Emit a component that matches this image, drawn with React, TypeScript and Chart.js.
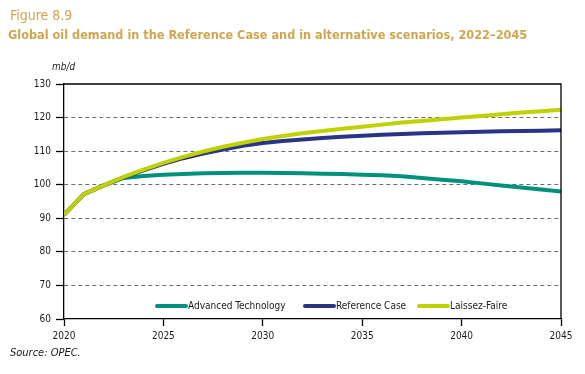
import React, { useEffect, useRef } from "react";
import { Chart, registerables } from "chart.js";

Chart.register(...registerables);

const years = [2020, 2021, 2022, 2023, 2024, 2025, 2026, 2027, 2028, 2029, 2030, 2031, 2032, 2033, 2034, 2035, 2036, 2037, 2038, 2039, 2040, 2041, 2042, 2043, 2044, 2045];
const advancedTechnology = [91.0, 97.2, 99.8, 102.0, 102.6, 103.0, 103.2, 103.4, 103.5, 103.6, 103.6, 103.5, 103.4, 103.3, 103.2, 103.0, 102.8, 102.5, 102.0, 101.5, 101.0, 100.4, 99.8, 99.2, 98.6, 98.0];
const referenceCase = [91.0, 97.2, 99.8, 102.2, 104.3, 106.2, 107.9, 109.3, 110.5, 111.6, 112.4, 113.0, 113.5, 113.9, 114.3, 114.6, 114.9, 115.1, 115.3, 115.5, 115.6, 115.8, 115.9, 116.0, 116.1, 116.2];
const laissezFaire = [91.0, 97.2, 99.8, 102.3, 104.5, 106.5, 108.3, 109.9, 111.3, 112.5, 113.6, 114.5, 115.3, 116.0, 116.7, 117.3, 117.9, 118.5, 119.0, 119.5, 120.0, 120.5, 121.0, 121.5, 121.9, 122.3];
const seriesLabels = ["Advanced Technology", "Reference Case", "Laissez-Faire"];
const seriesColors = ["#00917e", "#2a3486", "#bfd100"];

const CHART_FONT = '"DejaVu Sans Condensed", "Liberation Sans Narrow", sans-serif';

const framePlugin = {
  id: "frame",
  afterDatasetsDraw(chart: any) {
    const { ctx, chartArea } = chart;
    ctx.save();
    ctx.strokeStyle = "#000";
    ctx.lineWidth = 1.3;
    ctx.beginPath();
    ctx.moveTo(chartArea.left, chartArea.top);
    ctx.lineTo(chartArea.right, chartArea.top);
    ctx.lineTo(chartArea.right, chartArea.bottom);
    ctx.stroke();
    ctx.restore();
  },
};

const legendStarts = [157, 305, 419];

const legendPlugin = {
  id: "innerLegend",
  afterDatasetsDraw(chart: any) {
    const { ctx, chartArea } = chart;
    const y = chartArea.bottom - 13;
    const lineLen = 29;
    ctx.save();
    ctx.font = `10px ${CHART_FONT}`;
    ctx.textBaseline = "middle";
    chart.data.datasets.forEach((ds: any, i: number) => {
      const x = legendStarts[i];
      ctx.strokeStyle = ds.borderColor;
      ctx.lineWidth = 4;
      ctx.lineCap = "round";
      ctx.beginPath();
      ctx.moveTo(x, y);
      ctx.lineTo(x + lineLen, y);
      ctx.stroke();
      ctx.fillStyle = "#1a1a1a";
      ctx.fillText(ds.label, x + lineLen + 2, y + 0.5);
    });
    ctx.restore();
  },
};

export default function App() {
  const canvasRef = useRef<HTMLCanvasElement | null>(null);

  useEffect(() => {
    document.body.style.margin = "0";
    const canvas = canvasRef.current;
    if (!canvas) return;
    const series = [advancedTechnology, referenceCase, laissezFaire];
    const chart = new Chart(canvas, {
      type: "line",
      data: {
        datasets: series.map((vals, i) => ({
          label: seriesLabels[i],
          data: years.map((yr, j) => ({ x: yr, y: vals[j] })),
          borderColor: seriesColors[i],
          backgroundColor: seriesColors[i],
          borderWidth: 4,
          pointRadius: 0,
          tension: 0,
          borderJoinStyle: "round" as const,
          order: 2 - i,
        })),
      },
      options: {
        animation: false,
        responsive: false,
        maintainAspectRatio: false,
        layout: { padding: { left: 0, right: 24, top: 84, bottom: 0 } },
        plugins: { legend: { display: false }, tooltip: { enabled: false } },
        scales: {
          x: {
            type: "linear",
            min: 2020,
            max: 2045,
            afterFit: (s: any) => { s.height = 374 - 319; },
            ticks: {
              stepSize: 5,
              color: "#1a1a1a",
              font: { family: CHART_FONT, size: 10 },
              padding: 4,
              maxRotation: 0,
              callback: (v: any) => String(v),
            },
            grid: { drawOnChartArea: false, drawTicks: true, tickLength: 7, tickColor: "#000", tickWidth: 1.3 },
            border: { display: true, color: "#000", width: 1.3 },
          },
          y: {
            min: 60,
            max: 130,
            afterFit: (s: any) => { s.width = 64; },
            ticks: {
              stepSize: 10,
              color: "#1a1a1a",
              font: { family: CHART_FONT, size: 10 },
              padding: 5,
            },
            grid: {
              color: (c: any) => (c.tick && (c.tick.value === 60 || c.tick.value === 130) ? "rgba(0,0,0,0)" : "#6e6e6e"),
              lineWidth: 1,
              tickColor: "#000",
              tickLength: 8,
              tickWidth: 1.3,
              tickBorderDash: [],
            },
            border: { display: true, color: "#000", width: 1.3, dash: [4, 3] },
          },
        },
      },
      plugins: [framePlugin, legendPlugin],
    });
    return () => chart.destroy();
  }, []);

  const gold = "#cea64f";
  return (
    <div style={{ position: "fixed", left: 0, top: 0, width: 585, height: 374, background: "#fff", overflow: "hidden" }}>
      <canvas ref={canvasRef} width={585} height={374} style={{ position: "absolute", left: 0, top: 0, width: 585, height: 374 }} />
      <div style={{ position: "absolute", left: 10, top: 6, color: gold, fontFamily: '"DejaVu Sans Condensed", "Liberation Sans Narrow", sans-serif', fontSize: 14, lineHeight: "18px", whiteSpace: "nowrap" }}>
        Figure 8.9
      </div>
      <div style={{ position: "absolute", left: 8, top: 26, color: gold, fontFamily: '"DejaVu Sans Condensed", "Liberation Sans Narrow", sans-serif', fontWeight: "bold", fontSize: 12.6, lineHeight: "18px", whiteSpace: "nowrap" }}>
        Global oil demand in the Reference Case and in alternative scenarios, 2022–2045
      </div>
      <div style={{ position: "absolute", left: 52, top: 61, color: "#1a1a1a", fontFamily: CHART_FONT, fontStyle: "italic", fontSize: 10, lineHeight: "12px" }}>
        mb/d
      </div>
      <div style={{ position: "absolute", left: 10, top: 346, color: "#1a1a1a", fontFamily: CHART_FONT, fontStyle: "italic", fontSize: 11, lineHeight: "14px" }}>
        Source: OPEC.
      </div>
    </div>
  );
}
